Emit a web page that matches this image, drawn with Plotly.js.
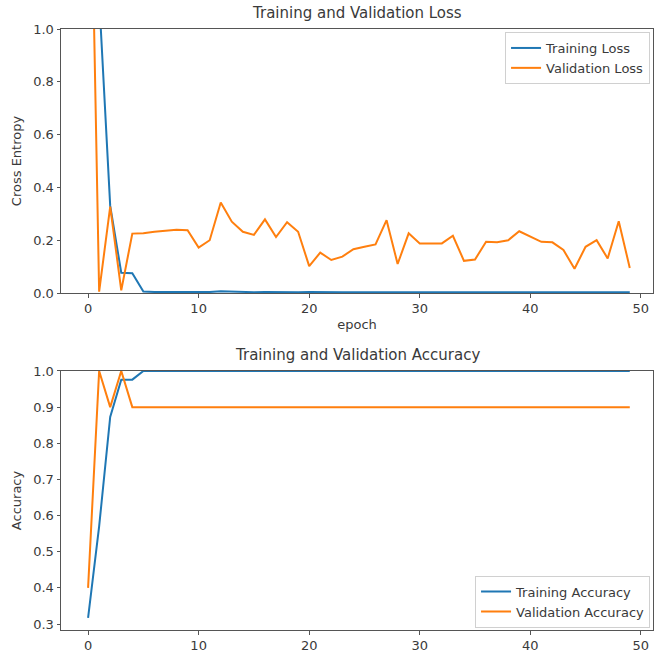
<!DOCTYPE html>
<html>
<head>
<meta charset="utf-8">
<script src="https://cdn.plot.ly/plotly-3.0.1.min.js"></script>
<style>html,body{margin:0;padding:0;background:#fff;}#chart{width:655px;height:656px;}</style>
</head>
<body>
<div id="chart"></div>
<script>
const epochs = Array.from({length: 50}, (_, i) => i);

const trainLoss = [3.5, 1.12, 0.33, 0.077, 0.075, 0.006, 0.004, 0.004, 0.004, 0.004,
  0.006, 0.004, 0.007, 0.005, 0.004, 0.003, 0.004, 0.003, 0.003, 0.003,
  0.004, 0.003, 0.003, 0.003, 0.003, 0.003, 0.003, 0.003, 0.004, 0.003,
  0.003, 0.003, 0.003, 0.003, 0.003, 0.003, 0.003, 0.003, 0.003, 0.003,
  0.003, 0.003, 0.003, 0.003, 0.003, 0.003, 0.003, 0.003, 0.003, 0.003];

const valLoss = [2.2, 0.005, 0.327, 0.01, 0.225, 0.226, 0.232, 0.236, 0.240, 0.238,
  0.172, 0.200, 0.343, 0.270, 0.232, 0.220, 0.279, 0.212, 0.268, 0.232,
  0.102, 0.153, 0.125, 0.138, 0.166, 0.175, 0.184, 0.276, 0.110, 0.226,
  0.188, 0.188, 0.188, 0.217, 0.122, 0.127, 0.194, 0.192, 0.200, 0.234,
  0.213, 0.194, 0.192, 0.163, 0.092, 0.175, 0.200, 0.131, 0.272, 0.095];

const trainAcc = [0.317, 0.57, 0.873, 0.976, 0.976, 1.0, 1.0, 1.0, 1.0, 1.0,
  1.0, 1.0, 1.0, 1.0, 1.0, 1.0, 1.0, 1.0, 1.0, 1.0,
  1.0, 1.0, 1.0, 1.0, 1.0, 1.0, 1.0, 1.0, 1.0, 1.0,
  1.0, 1.0, 1.0, 1.0, 1.0, 1.0, 1.0, 1.0, 1.0, 1.0,
  1.0, 1.0, 1.0, 1.0, 1.0, 1.0, 1.0, 1.0, 1.0, 1.0];

const valAcc = [0.4, 1.0, 0.9, 1.0, 0.9, 0.9, 0.9, 0.9, 0.9, 0.9,
  0.9, 0.9, 0.9, 0.9, 0.9, 0.9, 0.9, 0.9, 0.9, 0.9,
  0.9, 0.9, 0.9, 0.9, 0.9, 0.9, 0.9, 0.9, 0.9, 0.9,
  0.9, 0.9, 0.9, 0.9, 0.9, 0.9, 0.9, 0.9, 0.9, 0.9,
  0.9, 0.9, 0.9, 0.9, 0.9, 0.9, 0.9, 0.9, 0.9, 0.9];

const xTicks = [0, 10, 20, 30, 40, 50];
const lossTicks = [0.0, 0.2, 0.4, 0.6, 0.8, 1.0];
const accTicks = [0.3, 0.4, 0.5, 0.6, 0.7, 0.8, 0.9, 1.0];

const BLUE = '#1f77b4', ORANGE = '#ff7f0e', TXT = '#3a3a3a';
const FONT = 'DejaVu Sans, sans-serif';

const traces = [
  {x: epochs, y: trainLoss, type: 'scatter', mode: 'lines', name: 'Training Loss',
   line: {color: BLUE, width: 2}, xaxis: 'x', yaxis: 'y', legend: 'legend'},
  {x: epochs, y: valLoss, type: 'scatter', mode: 'lines', name: 'Validation Loss',
   line: {color: ORANGE, width: 2}, xaxis: 'x', yaxis: 'y', legend: 'legend'},
  {x: epochs, y: trainAcc, type: 'scatter', mode: 'lines', name: 'Training Accuracy',
   line: {color: BLUE, width: 2}, xaxis: 'x2', yaxis: 'y2', legend: 'legend2'},
  {x: epochs, y: valAcc, type: 'scatter', mode: 'lines', name: 'Validation Accuracy',
   line: {color: ORANGE, width: 2}, xaxis: 'x2', yaxis: 'y2', legend: 'legend2'}
];

const axCommon = {
  showgrid: false, zeroline: false, showline: true, mirror: true,
  linecolor: '#555', linewidth: 1, ticks: 'outside', ticklen: 3.5, tickwidth: 1,
  tickcolor: '#555', layer: 'above traces',
  tickfont: {family: FONT, size: 13, color: TXT}
};

const layout = {
  width: 655, height: 656,
  margin: {l: 61, r: 2, t: 29, b: 26},
  paper_bgcolor: '#fff', plot_bgcolor: '#fff',
  font: {family: FONT, color: TXT},
  showlegend: true,
  xaxis: Object.assign({}, axCommon, {
    domain: [0, 1], anchor: 'y', range: [-2.45, 51.1],
    tickvals: xTicks, ticktext: xTicks.map(String),
    title: {text: 'epoch', font: {family: FONT, size: 13, color: TXT}, standoff: 4}
  }),
  yaxis: Object.assign({}, axCommon, {
    domain: [0.5607, 1], anchor: 'x', range: [0, 1],
    tickvals: lossTicks, ticktext: lossTicks.map(v => v.toFixed(1)),
    title: {text: 'Cross Entropy', font: {family: FONT, size: 13, color: TXT}, standoff: 8}
  }),
  xaxis2: Object.assign({}, axCommon, {
    domain: [0, 1], anchor: 'y2', range: [-2.45, 51.1],
    tickvals: xTicks, ticktext: xTicks.map(String)
  }),
  yaxis2: Object.assign({}, axCommon, {
    domain: [0, 0.431], anchor: 'x2', range: [0.2836, 1.0],
    tickvals: accTicks, ticktext: accTicks.map(v => v.toFixed(1)),
    title: {text: 'Accuracy', font: {family: FONT, size: 13, color: TXT}, standoff: 8}
  }),
  legend: {
    x: 0.995, y: 0.995, xanchor: 'right', yanchor: 'top',
    bgcolor: 'rgba(255,255,255,0.8)', bordercolor: '#d0d0d0', borderwidth: 1,
    font: {family: FONT, size: 13, color: TXT}, tracegroupgap: 0
  },
  legend2: {
    x: 0.995, y: 0.004, xanchor: 'right', yanchor: 'bottom',
    bgcolor: 'rgba(255,255,255,0.8)', bordercolor: '#d0d0d0', borderwidth: 1,
    font: {family: FONT, size: 13, color: TXT}, tracegroupgap: 0
  },
  annotations: [
    {text: 'Training and Validation Loss', xref: 'paper', yref: 'paper',
     x: 0.5, y: 1, yshift: 5, xanchor: 'center', yanchor: 'bottom', showarrow: false,
     font: {family: FONT, size: 15, color: TXT}},
    {text: 'Training and Validation Accuracy', xref: 'paper', yref: 'paper',
     x: 0.5, y: 0.431, yshift: 5, xanchor: 'center', yanchor: 'bottom', showarrow: false,
     font: {family: FONT, size: 15, color: TXT}}
  ]
};

Plotly.newPlot('chart', traces, layout, {displayModeBar: false, staticPlot: true});
</script>
</body>
</html>
